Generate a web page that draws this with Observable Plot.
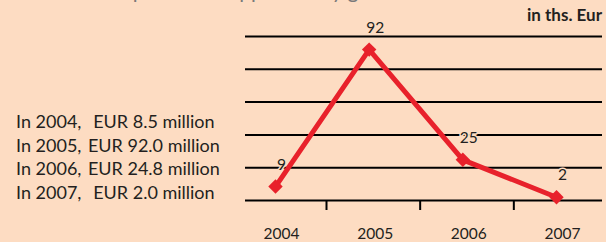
<!DOCTYPE html>
<html>
<head>
<meta charset="utf-8">
<script src="https://cdn.jsdelivr.net/npm/d3@7"></script>
<script src="https://cdn.jsdelivr.net/npm/@observablehq/plot@0.6"></script>
<style>
  html, body { margin: 0; padding: 0; background: #fddcc2; }
  #wrap { position: relative; width: 606px; height: 242px; overflow: hidden; background: #fddcc2; font-family: Lato, sans-serif; color: #231f20; }
  #wrap svg { position: absolute; left: 0; top: 0; }
  #title { position: absolute; left: 44px; top: -21px; font-size: 21px; line-height: 21px; color: #7a7a7a; white-space: nowrap; }
  #unit { position: absolute; right: 4px; top: 5px; font-size: 17px; font-weight: bold; line-height: 20px; }
  #notes { position: absolute; left: 16px; top: 110px; font-size: 18px; line-height: 23.5px; border-collapse: collapse; }
  #notes td { padding: 0; white-space: nowrap; }
  #notes td.amt { text-align: center; width: 145px; }
</style>
</head>
<body>
<div id="wrap">
  <div id="title"></div>
  <div id="unit"></div>
  <table id="notes"></table>
</div>
<script>
const years = [2004, 2005, 2006, 2007];
const values = [8.5, 92.0, 24.8, 2.0];
const valueLabels = ["9", "92", "25", "2"];
const noteAmounts = ["EUR 8.5 million", "EUR 92.0 million", "EUR 24.8 million", "EUR 2.0 million"];
const gridValues = [0, 20, 40, 60, 80, 100];
const titleText = "Total compensation approved by government";
const unitText = "in ths. Eur";

const data = years.map((year, i) => ({year, value: values[i], label: valueLabels[i]}));

document.getElementById("title").textContent = titleText;
document.getElementById("unit").textContent = unitText;
const table = document.getElementById("notes");
years.forEach((y, i) => {
  const tr = document.createElement("tr");
  const a = document.createElement("td"); a.textContent = `In ${y},`;
  const b = document.createElement("td"); b.className = "amt"; b.textContent = noteAmounts[i];
  tr.append(a, b); table.append(tr);
});

const red = "#e8212b";
const bg = "#fddcc2";
const chart = Plot.plot({
  width: 606,
  height: 242,
  marginLeft: 245,
  marginRight: 4,
  marginTop: 36,
  marginBottom: 42,
  style: {background: "transparent", fontFamily: "Lato, sans-serif", color: "#231f20"},
  x: {domain: [2004, 2007], range: [275, 556], axis: null, label: null},
  y: {domain: [0, 100], axis: null},
  marks: [
    Plot.axisX({ticks: years, tickSize: 10, tickFormat: () => "", label: null, dx: 51, stroke: "#000", strokeWidth: 2}),
    Plot.ruleY(gridValues, {stroke: "#000", strokeWidth: 2}),
    Plot.axisX({ticks: years, tickSize: 0, tickPadding: 27, label: null, tickFormat: d => String(d), dx: 6, fontSize: 15.5, fill: "#231f20"}),
    Plot.line(data, {x: "year", y: "value", stroke: red, strokeWidth: 5, strokeLinejoin: "miter"}),
    Plot.dot(data, {x: "year", y: "value", symbol: "diamond2", r: 6.5, fill: red, stroke: "none"}),
    Plot.text(data, {x: "year", y: "value", text: "label", dy: -22, dx: 6, fontSize: 15.5, fill: "#231f20", stroke: bg, strokeWidth: 3, paintOrder: "stroke"})
  ]
});
document.getElementById("wrap").prepend(chart);
</script>
</body>
</html>
